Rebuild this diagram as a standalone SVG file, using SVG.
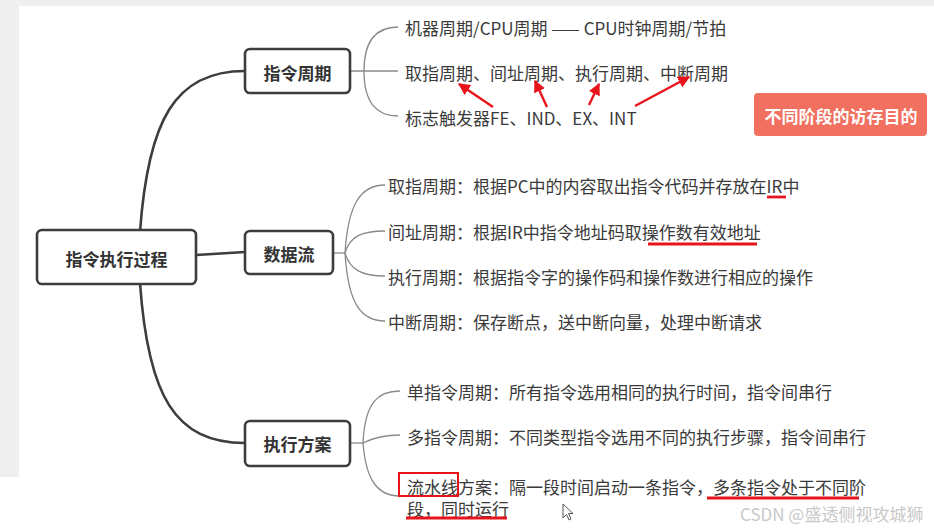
<svg xmlns="http://www.w3.org/2000/svg" width="934" height="530" viewBox="0 0 934 530">
<style>
.t{font-family:"Noto Sans CJK SC","Noto Sans",sans-serif;font-size:17px;fill:#3a3a3a;dominant-baseline:central}
.n{font-family:"Noto Sans CJK SC","Noto Sans",sans-serif;font-size:17px;font-weight:700;fill:#333;dominant-baseline:central;text-anchor:middle}
.box{fill:#fff;stroke:#3d3d3d;stroke-width:2.6}
.main{fill:none;stroke:#3d3d3d;stroke-width:2.6}
.br{fill:none;stroke:#8a8a8a;stroke-width:1.3}
.red{stroke:#e8141c;stroke-width:2.4;fill:none}
.redu{stroke:#e8141c;stroke-width:2.8}
</style>
<defs>
<marker id="ah" viewBox="0 0 10 10" refX="9" refY="5" markerWidth="5" markerHeight="5" orient="auto" markerUnits="strokeWidth">
<path d="M0,0 L10,5 L0,10 z" fill="#e8141c"/>
</marker>
</defs>
<rect width="934" height="530" fill="#ffffff"/>
<rect x="0" y="0" width="934" height="6" fill="#efefef"/>
<rect x="0" y="0" width="19" height="477" fill="#efefef"/>

<g id="connectors">
<path class="main" d="M140 232 C148 120 175 71 245 71"/>
<path class="main" d="M196 255 L245 252"/>
<path class="main" d="M140 283 C148 396 175 443 245 443"/>
<path class="br" d="M350 71 L398 71"/>
<path class="br" d="M364 71 C364 40 376 27 398 27"/>
<path class="br" d="M364 71 C364 102 376 116 398 116"/>
<path class="br" d="M333 253 L345 253"/>
<path class="br" d="M345 253 C348 205 360 185 385 185"/>
<path class="br" d="M345 253 C350 236 362 231 385 231"/>
<path class="br" d="M345 253 C350 270 362 276 385 276"/>
<path class="br" d="M345 253 C348 302 360 321 385 321"/>
<path class="br" d="M350 443 L363 443"/>
<path class="br" d="M363 443 C365 402 378 391 400 391"/>
<path class="br" d="M363 443 C375 437 385 435 400 435"/>
<path class="br" d="M363 443 C366 481 378 496 400 496"/>
</g>

<g id="root">
<rect class="box" x="37" y="230" width="159" height="54" rx="5"/>
<text class="n" x="116.5" y="258">指令执行过程</text>
</g>
<g id="node-cycle">
<rect class="box" x="245" y="49" width="105" height="44" rx="5"/>
<text class="n" x="297.5" y="72">指令周期</text>
</g>
<g id="node-flow">
<rect class="box" x="245" y="231" width="88" height="43" rx="5"/>
<text class="n" x="289" y="253">数据流</text>
</g>
<g id="node-plan">
<rect class="box" x="245" y="421" width="105" height="45" rx="5"/>
<text class="n" x="297.5" y="443">执行方案</text>
</g>

<g id="cycle-items">
<text class="t" x="405" y="27">机器周期/CPU周期 —— CPU时钟周期/节拍</text>
<text class="t" x="405" y="72">取指周期、间址周期、执行周期、中断周期</text>
<text class="t" x="405" y="117">标志触发器FE、IND、EX、INT</text>
</g>

<g id="flow-items">
<text class="t" x="388" y="185">取指周期：根据PC中的内容取出指令代码并存放在IR中</text>
<text class="t" x="388" y="231">间址周期：根据IR中指令地址码取操作数有效地址</text>
<text class="t" x="388" y="276">执行周期：根据指令字的操作码和操作数进行相应的操作</text>
<text class="t" x="388" y="321">中断周期：保存断点，送中断向量，处理中断请求</text>
</g>

<g id="plan-items">
<text class="t" x="407" y="391">单指令周期：所有指令选用相同的执行时间，指令间串行</text>
<text class="t" x="407" y="436">多指令周期：不同类型指令选用不同的执行步骤，指令间串行</text>
<text class="t" x="407" y="486">流水线方案：隔一段时间启动一条指令，多条指令处于不同阶</text>
<text class="t" x="407" y="508">段，同时运行</text>
</g>

<g id="badge">
<rect x="754" y="93" width="173" height="43" rx="4" fill="#f2705f"/>
<text class="n" x="841" y="115" style="fill:#ffffff">不同阶段的访存目的</text>
</g>

<g id="annotations">
<line class="red" x1="493" y1="107" x2="459" y2="84" marker-end="url(#ah)"/>
<line class="red" x1="547" y1="107" x2="535" y2="81" marker-end="url(#ah)"/>
<line class="red" x1="589" y1="105" x2="599" y2="84" marker-end="url(#ah)"/>
<line class="red" x1="635" y1="106" x2="689" y2="77" marker-end="url(#ah)"/>
<line class="redu" x1="767" y1="197" x2="786" y2="197"/>
<line class="redu" x1="648" y1="244" x2="757" y2="244"/>
<rect x="399" y="473" width="59" height="23" fill="none" stroke="#e8141c" stroke-width="2"/>
<line class="redu" x1="707" y1="498" x2="859" y2="498"/>
<line class="redu" x1="406" y1="518" x2="507" y2="518"/>
</g>

<g id="cursor">
<path d="M563 504 L563 518 L566.5 514.5 L569 520 L571 519 L568.5 513.5 L573 513.5 Z" fill="#ffffff" stroke="#555" stroke-width="1"/>
</g>

<g id="watermark">
<text x="740" y="513" style="font-family:'Noto Sans CJK SC','Noto Sans',sans-serif;font-size:17px;fill:#c9c9c9;dominant-baseline:central">CSDN @盛透侧视攻城狮</text>
</g>
</svg>
